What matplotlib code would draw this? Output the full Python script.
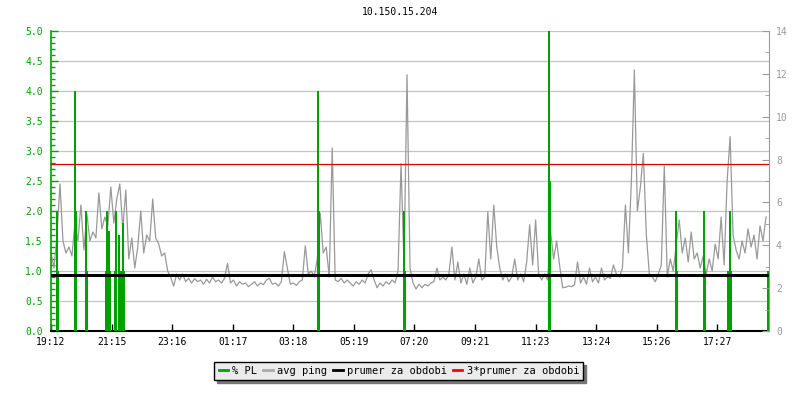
import numpy as np
import matplotlib
matplotlib.use('Agg')
import matplotlib.pyplot as plt
from matplotlib.lines import Line2D

plt.rcParams['font.family'] = 'DejaVu Sans Mono'
plt.rcParams['font.size'] = 7

# avg ping [ms], one sample every 6 minutes starting at 19:12
ping_ms = [
    3.64, 2.94, 4.48, 6.86, 4.2, 3.64, 3.92, 3.5, 5.04, 4.2, 5.88, 3.78,
    5.46, 4.2, 4.62, 4.34, 6.44, 4.76, 5.32, 4.9, 6.72, 5.04, 6.16, 6.86,
    4.76, 6.58, 3.36, 4.34, 2.94, 3.92, 5.6, 3.64, 4.48, 4.2, 6.16, 4.34,
    4.06, 3.5, 3.64, 2.8, 2.52, 2.1, 2.66, 2.38, 2.66, 2.3, 2.46, 2.24,
    2.44, 2.3, 2.38, 2.18, 2.41, 2.24, 2.52, 2.3, 2.38, 2.24, 2.46, 3.16,
    2.24, 2.38, 2.1, 2.3, 2.18, 2.24, 2.07,
    2.18, 2.3, 2.1, 2.24, 2.16, 2.38, 2.46, 2.18, 2.24, 2.1, 2.3, 3.7,
    2.94, 2.18, 2.24, 2.13, 2.3, 2.38, 3.98, 2.66, 2.8, 2.52, 3.36, 5.49,
    3.64, 3.92, 2.52, 8.54, 2.38, 2.3, 2.46, 2.24, 2.38,
    2.24, 2.1, 2.3, 2.18, 2.38, 2.24, 2.66, 2.86, 2.38, 2.02, 2.24, 2.1,
    2.3, 2.18, 2.38, 2.24, 2.8, 7.81, 3.08, 11.96, 2.94, 2.24, 1.96, 2.18,
    2.02, 2.18, 2.1, 2.24, 2.3, 2.94, 2.38, 2.52, 2.38, 2.66,
    3.92, 2.38, 3.22, 2.24, 2.66, 2.18, 2.94, 2.24, 2.52, 3.36, 2.38, 2.52,
    5.57, 3.36, 5.88, 3.92, 2.94, 2.38, 2.66, 2.3, 2.52, 3.36, 2.38, 2.66,
    2.3, 3.22, 4.96, 3.08, 5.18, 2.66, 2.38, 2.66, 2.38,
    4.62, 3.36, 4.2, 3.08, 2.02, 2.04, 2.1, 2.07, 2.16, 3.22, 2.24, 2.52,
    2.18, 2.94, 2.3, 2.52, 2.24, 2.94, 2.38, 2.52, 2.46, 3.08, 2.66, 2.52,
    2.94, 5.88, 3.64, 7.0, 12.18, 5.6, 6.72, 8.29, 4.48, 2.66,
    2.52, 2.3, 2.66, 3.08, 7.7, 2.52, 3.36, 2.8, 4.06, 5.18, 3.64, 4.34,
    3.22, 4.62, 3.36, 3.64, 2.94, 3.5, 2.66, 3.36, 2.8, 4.06, 3.36, 5.32,
    3.08, 7.0, 9.07, 4.48, 3.78, 3.36, 4.2, 3.64, 4.76, 3.92, 4.48, 3.36,
    4.9, 4.2, 5.32,
]
ping_step_min = 6

# packet loss [%], minutes from start
pl_time = [12, 14, 48, 50, 70, 72, 110, 112, 114, 116, 118, 128, 130,
           136, 138, 142, 144, 146, 535, 537, 708, 710, 999, 1001,
           1253, 1255, 1310, 1312, 1358, 1360, 1362, 1364, 1438]
pl_value = [2.0, 1.0, 4.0, 2.0, 2.0, 1.0, 1.0, 2.0, 1.0, 1.67, 1.0, 1.0, 2.0,
            1.6, 1.0, 1.0, 1.8, 1.0, 4.0, 2.0, 2.0, 1.0, 5.0, 2.5,
            2.0, 1.0, 2.0, 1.0, 1.0, 1.0, 2.0, 1.0, 1.0]

mean_ping = 2.6   # prumer za obdobi [ms]

x_labels = ['19:12', '21:15', '23:16', '01:17', '03:18', '05:19',
            '07:20', '09:21', '11:23', '13:24', '15:26', '17:27']

green = '#00a000'
grey = '#999999'

t = np.arange(len(ping_ms)) * ping_step_min

fig = plt.figure(figsize=(8, 4), dpi=100)
ax = fig.add_axes([51 / 800, 69 / 400, 718 / 800, 300 / 400])
ax2 = ax.twinx()

ax.set_xlim(0, 1440)
ax.set_ylim(0, 5)
ax2.set_ylim(0, 14)

# grid + data (gray drawn in ms through the right axis)
ax.set_yticks(np.arange(0, 5.01, 0.5))
ax.yaxis.grid(True, color='#c4c4c4', lw=0.9)
ax.set_axisbelow(True)
ax.plot(t, ping_ms, color=grey, lw=0.9, transform=ax2.transData, zorder=2)
ax.vlines(pl_time, 0, pl_value, colors=green, lw=1.3, zorder=3,
          antialiased=False)
ax2.axhline(mean_ping, color='black', lw=2.2)
ax2.axhline(3 * mean_ping, color='#dd0000', lw=0.9)

# axes styling
ax.set_xticks(np.arange(len(x_labels)) * 121.5)
ax.set_xticklabels(x_labels)
ax.set_yticklabels([f'{v:.1f}' for v in np.arange(0, 5.01, 0.5)])
ax.set_yticks(np.arange(0, 5.01, 0.1), minor=True)
ax.tick_params(axis='y', which='both', direction='in', colors=green, pad=6)
ax.tick_params(axis='y', which='major', length=5, width=1)
ax.tick_params(axis='y', which='minor', length=3, width=1)
ax.tick_params(axis='x', direction='in', length=5, width=1, colors='black', pad=4)
ax.tick_params(axis='y', labelcolor=green)

ax2.set_yticks(np.arange(0, 14.1, 2))
ax2.set_yticks(np.arange(1, 14, 2), minor=True)
ax2.tick_params(axis='y', which='both', direction='in', colors=grey, pad=5)
ax2.tick_params(axis='y', which='major', length=5)
ax2.tick_params(axis='y', which='minor', length=3)

for a in (ax, ax2):
    a.spines['top'].set_visible(False)
ax.spines['left'].set_color(green)
ax.spines['left'].set_linewidth(1.2)
ax.spines['bottom'].set_linewidth(1.5)
ax.spines['right'].set_visible(False)
ax2.spines['left'].set_visible(False)
ax2.spines['bottom'].set_visible(False)
ax2.spines['right'].set_color(grey)

fig.text(0.5, 1 - 12 / 400, '10.150.15.204', ha='center', va='center', fontsize=7)

handles = [Line2D([], [], color=green, lw=2),
           Line2D([], [], color='#aaaaaa', lw=2),
           Line2D([], [], color='black', lw=2),
           Line2D([], [], color='red', lw=2)]
names = ['% PL', 'avg ping', 'prumer za obdobi', '3*prumer za obdobi']
leg = fig.legend(handles, names, loc='center', bbox_to_anchor=(0.4985, 1 - 371 / 400),
                 ncol=4, fontsize=7.5, frameon=True, fancybox=False,
                 shadow={'color': '#777777', 'alpha': 1},
                 handlelength=0.9, handletextpad=0.4, columnspacing=0.6,
                 borderpad=0.4)
leg.get_frame().set_edgecolor('black')
leg.get_frame().set_facecolor('#ebebeb')
leg.get_frame().set_linewidth(1)
leg.get_frame().set_alpha(1)

fig.savefig('out.png', dpi=100)
